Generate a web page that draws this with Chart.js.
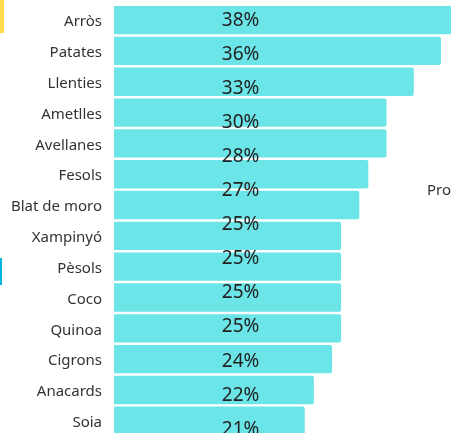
<!DOCTYPE html>
<html>
<head>
<meta charset="utf-8">
<script src="https://cdn.jsdelivr.net/npm/chart.js@4.4.1/dist/chart.umd.min.js"></script>
<style>
  html, body { margin: 0; padding: 0; background: #fff; overflow: hidden; }
  #wrap { position: relative; width: 451px; height: 433px; overflow: hidden; }
  canvas { position: absolute; left: 0; top: 0; }
</style>
</head>
<body>
<div id="wrap"><canvas id="aliments" width="451" height="440"></canvas></div>
<script>
// data
const categories = ['Arròs', 'Patates', 'Llenties', 'Ametlles', 'Avellanes', 'Fesols', 'Blat de moro',
  'Xampinyó', 'Pèsols', 'Coco', 'Quinoa', 'Cigrons', 'Anacards', 'Soia'];
const shares = [38, 36, 33, 30, 30, 28, 27, 25, 25, 25, 25, 24, 22, 21];
// the value labels in the picture (one fewer than the bars, on their own spacing)
const shareLabels = ['38%', '36%', '33%', '30%', '28%', '27%', '25%', '25%', '25%', '25%', '24%', '22%', '21%'];
const labelStart = 0;      // first label, in bar rows
const labelStep = 1.1065;  // label spacing, in bar rows
const labelAt = 13.93;     // x position of the labels, in %

// percent labels + leftovers of the page around the chart
var labelText = {
  id: 'labelText',
  afterDatasetsDraw(chart) {
    const { ctx, scales: { x, y } } = chart;
    ctx.save();
    ctx.font = '19px "Noto Sans"';
    ctx.fillStyle = '#222';
    ctx.textAlign = 'center';
    ctx.textBaseline = 'middle';
    shareLabels.forEach((t, i) => {
      ctx.fillText(t, x.getPixelForValue(labelAt), y.getPixelForValue(labelStart + labelStep * i));
    });
    ctx.restore();
  },
  afterDraw(chart) {
    const { ctx } = chart;
    ctx.save();
    ctx.fillStyle = '#ffdb4d'; // yellow stripe top left
    ctx.fillRect(0, 0, 4, 33);
    ctx.fillStyle = '#00b4e2'; // blue stripe
    ctx.fillRect(0, 258, 2, 27);
    ctx.font = '15px "Noto Sans"';
    ctx.fillStyle = '#333';
    ctx.textAlign = 'left';
    ctx.textBaseline = 'middle';
    ctx.fillText('Pro', 427, 191);
    ctx.restore();
  }
};

const config = {
  type: 'bar',
  data: {
    labels: categories,
    datasets: [{
      data: shares,
      backgroundColor: '#6ce5e8',
      borderRadius: 2,
      borderSkipped: 'left',
      categoryPercentage: 1,
      barPercentage: 0.92
    }]
  },
  options: {
    indexAxis: 'y',
    responsive: false,
    animation: false,
    layout: { padding: { top: 4.7, bottom: 3.8, left: 0, right: 0 } },
    scales: {
      x: { display: false, min: 0, max: 37.1 },
      y: {
        grid: { display: false, drawTicks: false },
        border: { display: false },
        ticks: { padding: 12, labelOffset: 2, color: '#333', font: { family: 'Noto Sans', size: 15 } },
        afterFit(scale) {
          scale.width = 114;
          scale.paddingTop = 0; // no extra room for the label halves
          scale.paddingBottom = 0;
        }
      }
    },
    plugins: {
      legend: { display: false },
      tooltip: { enabled: false }
    }
  },
  plugins: [labelText]
};

const chart = new Chart(document.getElementById('aliments'), config);
</script>
</body>
</html>
